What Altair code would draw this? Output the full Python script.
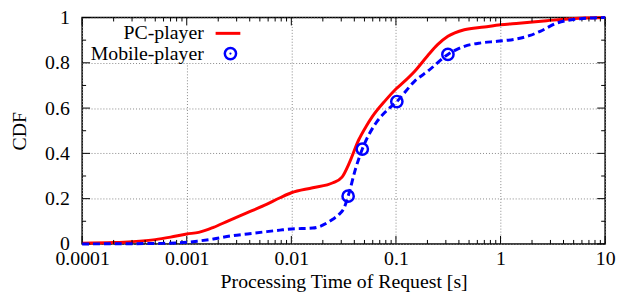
import altair as alt
import pandas as pd

# ---- data ----
pc_x = [0.0001, 0.0002, 0.0003, 0.0005, 0.0007, 0.001, 0.0013, 0.0018, 0.0025, 0.0038,
        0.0055, 0.0078, 0.01, 0.016, 0.025, 0.0305, 0.036, 0.044, 0.052, 0.059, 0.079,
        0.1, 0.122, 0.152, 0.2, 0.25, 0.314, 0.45, 0.7, 1.0, 1.5, 2.76, 5.7, 10]
pc_y = [0.003, 0.006, 0.01, 0.019, 0.03, 0.044, 0.051, 0.073, 0.102, 0.138,
        0.17, 0.204, 0.226, 0.248, 0.27, 0.295, 0.36, 0.459, 0.52, 0.56, 0.633,
        0.684, 0.72, 0.764, 0.83, 0.88, 0.917, 0.946, 0.958, 0.968, 0.975, 0.986, 0.997, 1.0]

mob_x = [0.0001, 0.0003, 0.0005, 0.0008, 0.001, 0.0013, 0.0018, 0.0026, 0.0038, 0.0055,
         0.0078, 0.01, 0.016, 0.0249, 0.0285, 0.032, 0.0349, 0.0413, 0.0477, 0.0637, 0.08,
         0.102, 0.152, 0.203, 0.314, 0.451, 0.65, 0.93, 1.4, 1.92, 2.39, 3.43, 5.7, 10]
mob_y = [0.0, 0.001, 0.002, 0.004, 0.007, 0.013, 0.022, 0.035, 0.044, 0.053,
         0.061, 0.066, 0.07, 0.109, 0.13, 0.16, 0.211, 0.335, 0.419, 0.531, 0.585,
         0.629, 0.72, 0.764, 0.837, 0.873, 0.888, 0.895, 0.905, 0.921, 0.939, 0.975, 0.994, 1.0]

mark_x = [0.0349, 0.0477, 0.102, 0.314]
mark_y = [0.211, 0.419, 0.629, 0.837]

x_major = [0.0001, 0.001, 0.01, 0.1, 1, 10]
x_minor = [k * 10.0 ** e for e in range(-4, 1) for k in range(2, 10)]
y_major = [0, 0.2, 0.4, 0.6, 0.8, 1.0]
y_minor = [0.1, 0.3, 0.5, 0.7, 0.9]

series_names = ["PC-player", "Mobile-player"]

W, H = 529, 229
FONT = "Liberation Serif"
FS = 20
RED = "#ff0000"
BLUE = "#0000ff"

xs = alt.Scale(type="log", domain=[0.0001, 10], nice=False)
ys = alt.Scale(domain=[0, 1], nice=False, zero=False)

pc = pd.DataFrame({"x": pc_x, "y": pc_y})
mob = pd.DataFrame({"x": mob_x, "y": mob_y})
mk = pd.DataFrame({"x": mark_x, "y": mark_y})

x_axis = alt.Axis(values=x_major, format="~g", grid=True, gridDash=[1, 2],
                  gridColor="#888888", gridWidth=1, ticks=False, domain=False,
                  labelFont=FONT, labelFontSize=FS, labelColor="black",
                  labelPadding=5, title="Processing Time of Request [s]",
                  titleFont=FONT, titleFontSize=FS, titleFontWeight="normal",
                  titleColor="black", titlePadding=3, labelFlush=False)
y_axis = alt.Axis(values=y_major, format="~g", grid=True, gridDash=[1, 2],
                  gridColor="#888888", gridWidth=1, ticks=False, domain=False,
                  labelFont=FONT, labelFontSize=FS, labelColor="black",
                  labelPadding=13, title="CDF", titleFont=FONT, titleFontSize=FS,
                  titleFontWeight="normal", titleColor="black", titlePadding=15,
                  labelFlush=False)

X = lambda f: alt.X(f, scale=xs, axis=x_axis)
Y = lambda f: alt.Y(f, scale=ys, axis=y_axis)

pc_line = alt.Chart(pc).mark_line(color=RED, strokeWidth=3, interpolate="monotone").encode(
    x=X("x:Q"), y=Y("y:Q"))
mob_line = alt.Chart(mob).mark_line(color=BLUE, strokeWidth=3, strokeDash=[7, 4],
                                    interpolate="monotone").encode(x=X("x:Q"), y=Y("y:Q"))
mob_pts = alt.Chart(mk).mark_point(shape="circle", size=130, filled=False, color=BLUE,
                                   strokeWidth=2.5, opacity=1).encode(x=X("x:Q"), y=Y("y:Q"))

# legend box
one = pd.DataFrame({"a": [0]})
legend_bg = alt.Chart(one).mark_rect(color="white").encode(
    x=alt.value(2), x2=alt.value(172), y=alt.value(2), y2=alt.value(46))
leg_text1 = alt.Chart(pd.DataFrame({"t": [series_names[0]]})).mark_text(
    font=FONT, fontSize=FS, align="right", baseline="middle", color="black").encode(
    text="t:N", x=alt.value(123), y=alt.value(16))
leg_text2 = alt.Chart(pd.DataFrame({"t": [series_names[1]]})).mark_text(
    font=FONT, fontSize=FS, align="right", baseline="middle", color="black").encode(
    text="t:N", x=alt.value(123), y=alt.value(37))
leg_line = alt.Chart(one).mark_rule(color=RED, strokeWidth=3).encode(
    x=alt.value(135), x2=alt.value(160), y=alt.value(16))
leg_circ = alt.Chart(one).mark_point(shape="circle", size=130, filled=False, color=BLUE,
                                     strokeWidth=2.5, opacity=1).encode(
    x=alt.value(150), y=alt.value(36.5))
leg_dot = alt.Chart(one).mark_point(shape="circle", size=5, filled=True, color=BLUE,
                                    opacity=1).encode(x=alt.value(150), y=alt.value(36.5))

# inward ticks on all four sides
def xticks(vals, length):
    d = pd.DataFrame({"v": vals})
    bot = alt.Chart(d).mark_rule(color="black", strokeWidth=1).encode(
        x=X("v:Q"), y=alt.value(H), y2=alt.value(H - length))
    top = alt.Chart(d).mark_rule(color="black", strokeWidth=1).encode(
        x=X("v:Q"), y=alt.value(0), y2=alt.value(length))
    return [bot, top]

def yticks(vals, length):
    d = pd.DataFrame({"v": vals})
    left = alt.Chart(d).mark_rule(color="black", strokeWidth=1).encode(
        y=Y("v:Q"), x=alt.value(0), x2=alt.value(length))
    right = alt.Chart(d).mark_rule(color="black", strokeWidth=1).encode(
        y=Y("v:Q"), x=alt.value(W), x2=alt.value(W - length))
    return [left, right]

ticks = xticks(x_major, 8) + xticks(x_minor, 4) + yticks(y_major, 8) + yticks(y_minor, 4)

chart = alt.layer(
    pc_line, legend_bg, *ticks, mob_line, mob_pts, leg_text1, leg_text2, leg_line,
    leg_circ, leg_dot
).properties(
    width=W, height=H,
    padding={"left": 75, "top": 8, "right": 12, "bottom": 47},
    autosize=alt.AutoSizeParams(type="none"),
    background="white",
).configure_view(stroke="black", strokeWidth=1.5)

chart.save("out.html", embed_options={"renderer": "svg", "actions": False})
